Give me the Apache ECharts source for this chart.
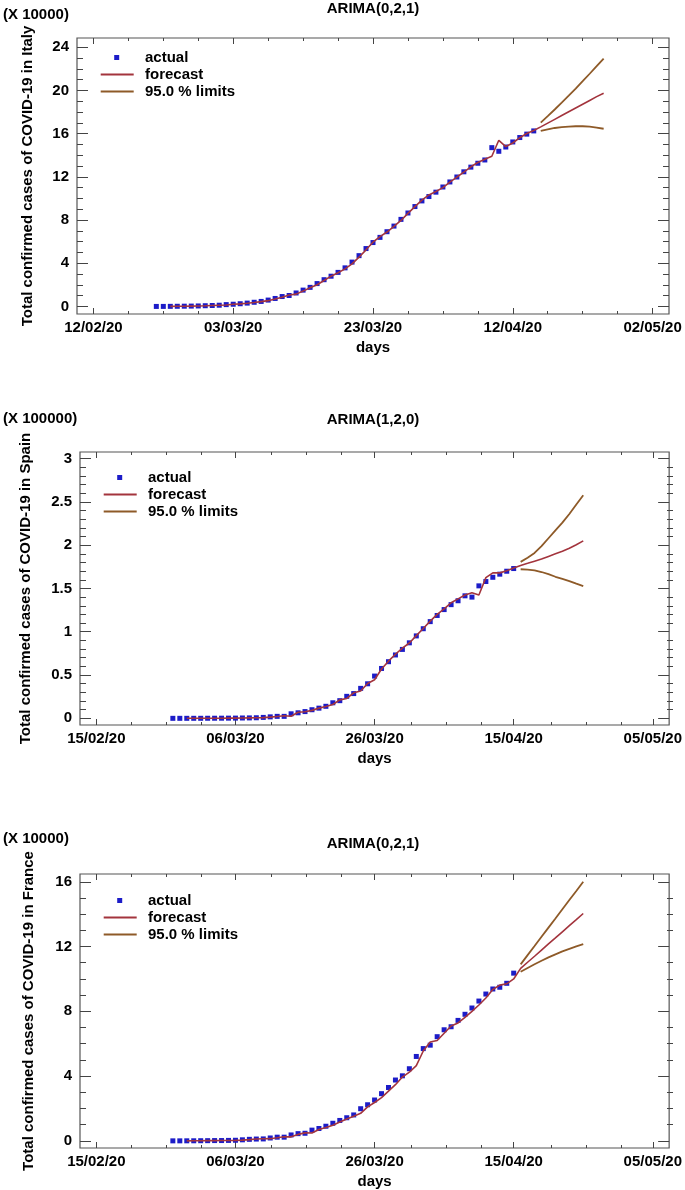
<!DOCTYPE html>
<html>
<head>
<meta charset="utf-8">
<script src="https://cdn.jsdelivr.net/npm/echarts@6/dist/echarts.min.js"></script>
<style>
html,body{margin:0;padding:0;background:#fff;}
#c{width:685px;height:1190px;}
</style>
</head>
<body>
<div id="c"></div>
<script>
// ---------------- DATA ----------------
// Italy (X 10000)
const italyBase = '2020-02-12';
const italyActualStart = '2020-02-21';
const italyActual = [0.0003,0.002,0.008,0.015,0.023,0.032,0.045,0.066,0.089,0.113,
  0.169,0.204,0.250,0.309,0.386,0.464,0.588,0.738,0.917,1.015,
  1.246,1.511,1.766,2.116,2.475,2.798,3.151,3.571,4.104,4.702,
  5.358,5.914,6.393,6.918,7.439,8.059,8.650,9.247,9.769,10.174,
  10.579,11.057,11.524,11.983,12.463,12.895,13.255,13.559,14.70,14.363,
  14.758,15.227,15.636,15.952,16.249];
const italyFittedStart = '2020-02-23';
const italyFitted = [0.004,0.013,0.021,0.030,0.041,0.057,0.083,0.109,0.136,0.200,
  0.240,0.292,0.360,0.448,0.535,0.680,0.860,1.060,1.140,1.420,
  1.730,2.010,2.400,2.800,3.120,3.480,3.940,4.560,5.240,5.950,
  6.460,6.890,7.420,7.960,8.620,9.240,9.840,10.320,10.640,11.000,
  11.500,11.980,12.440,12.930,13.320,13.620,13.900,15.380,14.800,15.130,
  15.620,16.010,16.280];
const italyForecastStart = '2020-04-16';
const italyForecast = [16.62,16.97,17.32,17.67,18.02,18.37,18.72,19.07,19.42,19.74];
const italyUpper = [17.02,17.62,18.23,18.86,19.51,20.17,20.85,21.54,22.24,22.95];
const italyLower = [16.25,16.40,16.52,16.60,16.65,16.68,16.68,16.64,16.56,16.45];
const italyYTicks = [0,4,8,12,16,20,24];
const italyYMinor = [1,2,3,5,6,7,9,10,11,13,14,15,17,18,19,21,22,23];

// Spain (X 100000)
const spainBase = '2020-02-15';
const spainActualStart = '2020-02-26';
const spainActual = [0.00002,0.00013,0.00015,0.00032,0.00045,0.00084,0.0012,0.00165,0.0022,0.0026,
  0.0040,0.0050,0.0067,0.0107,0.0170,0.0228,0.0228,0.0523,0.0639,0.0780,
  0.0994,0.1175,0.1390,0.1796,0.2040,0.2540,0.2860,0.3460,0.3990,0.4880,
  0.5760,0.6540,0.7320,0.7960,0.8720,0.9520,1.0350,1.1170,1.1880,1.2560,
  1.3130,1.3580,1.4150,1.4000,1.5300,1.5800,1.6290,1.6650,1.6990,1.7300];
const spainFittedStart = '2020-02-28';
const spainFitted = [0.0002,0.0002,0.0004,0.0006,0.0011,0.0015,0.0021,0.0028,0.0030,0.0050,
  0.0060,0.0082,0.0135,0.0215,0.0290,0.0240,0.0700,0.0760,0.0920,0.1180,
  0.1360,0.1600,0.2130,0.2300,0.2950,0.3160,0.4030,0.4450,0.5700,0.6600,
  0.7400,0.8100,0.8700,0.9550,1.0380,1.1230,1.2000,1.2650,1.3350,1.3800,
  1.4250,1.4500,1.4250,1.6250,1.6800,1.6800,1.7050,1.7350];
const spainForecastStart = '2020-04-16';
const spainForecast = [1.766,1.790,1.815,1.840,1.870,1.900,1.930,1.965,2.005,2.050];
const spainUpper = [1.807,1.855,1.910,1.990,2.080,2.170,2.260,2.360,2.470,2.577];
const spainLower = [1.722,1.718,1.710,1.690,1.665,1.635,1.610,1.585,1.555,1.527];
const spainYTicks = [0,0.5,1,1.5,2,2.5,3];
const spainYMinor = [0.1,0.2,0.3,0.4,0.6,0.7,0.8,0.9,1.1,1.2,1.3,1.4,1.6,1.7,1.8,1.9,2.1,2.2,2.3,2.4,2.6,2.7,2.8,2.9];

// France (X 10000)
const franceBase = '2020-02-15';
const franceActualStart = '2020-02-26';
const franceActual = [0.0014,0.0018,0.0038,0.0057,0.0100,0.0130,0.0191,0.0204,0.0285,0.0377,
  0.0653,0.0949,0.1126,0.1209,0.1784,0.2281,0.2281,0.3661,0.4469,0.4700,
  0.6633,0.7652,0.9043,1.0871,1.2612,1.4282,1.6018,1.9856,2.2304,2.5233,
  2.9155,3.2964,3.7575,4.0174,4.4550,5.2128,5.6989,5.9105,6.4338,6.8605,
  7.0478,7.4390,7.8167,8.2048,8.6334,9.0676,9.3790,9.4863,9.7301,10.3573];
const franceFittedStart = '2020-02-28';
const franceFitted = [0.0022,0.0050,0.0075,0.0130,0.0165,0.0230,0.0240,0.0330,0.0440,0.0780,
  0.1150,0.1350,0.1360,0.1950,0.2550,0.2500,0.4000,0.4950,0.4900,0.7000,
  0.8200,0.9700,1.1600,1.3500,1.5200,1.7000,2.1000,2.3700,2.6700,3.0700,
  3.4700,3.9400,4.2400,4.6500,5.5500,6.1000,6.2000,6.6500,7.0900,7.2800,
  7.6300,8.0000,8.3900,8.8200,9.3500,9.6200,9.7000,10.0000];
const franceForecastStart = '2020-04-16';
const franceForecast = [10.65,11.03,11.40,11.78,12.16,12.53,12.91,13.29,13.66,14.04];
const franceUpper = [10.90,11.47,12.03,12.60,13.17,13.73,14.30,14.87,15.43,16.00];
const franceLower = [10.44,10.68,10.91,11.12,11.33,11.52,11.70,11.86,12.01,12.15];
const franceYTicks = [0,4,8,12,16];
const franceYMinor = [1,2,3,5,6,7,9,10,11,13,14,15];

// shared x ticks (days after base date)
const xMajorTicks = [0,20,40,60,80];
const xMinorTicks = [5,10,15,25,30,35,45,50,55,65,70,75];

const titles = ['ARIMA(0,2,1)','ARIMA(1,2,0)','ARIMA(0,2,1)'];
const units = ['(X 10000)','(X 100000)','(X 10000)'];
const yNames = ['Total confirmed cases of COVID-19 in Italy',
                'Total confirmed cases of COVID-19 in Spain',
                'Total confirmed cases of COVID-19 in France'];
const legendNames = ['actual','forecast','95.0 % limits'];

// ---------------- BUILD ----------------
const FONT = '"Liberation Sans", Arial, Helvetica, sans-serif';
const DAY = 86400000;
function ms(s){ const p=s.split('-').map(Number); return Date.UTC(p[0],p[1]-1,p[2]); }
function dayIdx(base, s){ return Math.round((ms(s)-ms(base))/DAY); }
function pad(n){ return (n<10?'0':'')+n; }
function fmtDate(base, v){
  const d = new Date(ms(base) + Math.round(v)*DAY);
  return pad(d.getUTCDate())+'/'+pad(d.getUTCMonth()+1)+'/'+String(d.getUTCFullYear()).slice(2);
}
function pts(base, start, arr){
  const s0 = dayIdx(base, start);
  return arr.map((v,i)=>[s0+i, v]);
}

const panels = [
  {base:italyBase, actual:pts(italyBase,italyActualStart,italyActual),
   line:pts(italyBase,italyFittedStart,italyFitted).concat(pts(italyBase,italyForecastStart,italyForecast)),
   upper:pts(italyBase,italyForecastStart,italyUpper), lower:pts(italyBase,italyForecastStart,italyLower),
   yTicks:italyYTicks, yMinor:italyYMinor, ymin:-0.7, ymax:24.85,
   grid:{left:77, top:38, width:592, height:276}, nameGap:42,
   titleTop:1, unitTop:7, legendTop:50},
  {base:spainBase, actual:pts(spainBase,spainActualStart,spainActual),
   line:pts(spainBase,spainFittedStart,spainFitted).concat(pts(spainBase,spainForecastStart,spainForecast)),
   upper:pts(spainBase,spainForecastStart,spainUpper), lower:pts(spainBase,spainForecastStart,spainLower),
   yTicks:spainYTicks, yMinor:spainYMinor, ymin:-0.077, ymax:3.076,
   grid:{left:80, top:452, width:593, height:273}, nameGap:47,
   titleTop:412, unitTop:411, legendTop:470},
  {base:franceBase, actual:pts(franceBase,franceActualStart,franceActual),
   line:pts(franceBase,franceFittedStart,franceFitted).concat(pts(franceBase,franceForecastStart,franceForecast)),
   upper:pts(franceBase,franceForecastStart,franceUpper), lower:pts(franceBase,franceForecastStart,franceLower),
   yTicks:franceYTicks, yMinor:franceYMinor, ymin:-0.44, ymax:16.48,
   grid:{left:80, top:874, width:593, height:274}, nameGap:44,
   titleTop:836, unitTop:831, legendTop:893}
];

const XMIN = -2.35, XMAX = 82.35;
const TICK = '#444';
const COL_ACT = '#1c1cc8', COL_FC = '#a3343d', COL_LIM = '#8e5a28';
const option = {
  animation:false,
  backgroundColor:'#fff',
  textStyle:{fontFamily:FONT},
  title:[], grid:[], xAxis:[], yAxis:[], legend:[], series:[]
};

panels.forEach((p, c)=>{
  const gMain = c*2, gMinor = c*2+1;
  option.grid.push(Object.assign({show:true, borderColor:'#555', borderWidth:1.2, backgroundColor:'transparent'}, p.grid));
  option.grid.push(Object.assign({show:false}, p.grid));
  option.title.push({text:titles[c], left:373, top:p.titleTop, textAlign:'center', padding:0,
    textStyle:{fontSize:15, fontWeight:'bold', color:'#000', fontFamily:FONT}});
  option.title.push({text:units[c], left:3, top:p.unitTop, padding:0,
    textStyle:{fontSize:15, fontWeight:'bold', color:'#000', fontFamily:FONT}});

  const labelStyle = {fontSize:15, fontWeight:'bold', color:'#000', fontFamily:FONT};
  const noLine = {show:false, onZero:false};
  const xBase = {type:'value', min:XMIN, max:XMAX, axisLine:noLine, splitLine:{show:false}};
  const yBase = {type:'value', min:p.ymin, max:p.ymax, axisLine:noLine, splitLine:{show:false}};
  const xi0 = option.xAxis.length, yi0 = option.yAxis.length;
  // main bottom
  option.xAxis.push(Object.assign({}, xBase, {gridIndex:gMain, position:'bottom',
    axisTick:{show:true, inside:true, length:6, customValues:xMajorTicks, lineStyle:{color:TICK}},
    axisLabel:Object.assign({show:true, customValues:xMajorTicks, margin:6,
      formatter:(v)=>fmtDate(p.base, v)}, labelStyle),
    name:'days', nameLocation:'middle', nameGap:26, nameTextStyle:labelStyle}));
  // main top
  option.xAxis.push(Object.assign({}, xBase, {gridIndex:gMain, position:'top',
    axisTick:{show:true, inside:true, length:6, customValues:xMajorTicks, lineStyle:{color:TICK}},
    axisLabel:{show:false}}));
  // minor bottom / top
  option.xAxis.push(Object.assign({}, xBase, {gridIndex:gMinor, position:'bottom',
    axisTick:{show:true, inside:true, length:3, customValues:xMinorTicks, lineStyle:{color:TICK}},
    axisLabel:{show:false}}));
  option.xAxis.push(Object.assign({}, xBase, {gridIndex:gMinor, position:'top',
    axisTick:{show:true, inside:true, length:3, customValues:xMinorTicks, lineStyle:{color:TICK}},
    axisLabel:{show:false}}));
  // y main left
  option.yAxis.push(Object.assign({}, yBase, {gridIndex:gMain, position:'left',
    axisTick:{show:true, inside:true, length:11, customValues:p.yTicks, lineStyle:{color:TICK}},
    axisLabel:Object.assign({show:true, customValues:p.yTicks, margin:8}, labelStyle),
    name:yNames[c], nameLocation:'middle', nameRotate:90, nameGap:p.nameGap, nameTextStyle:labelStyle}));
  option.yAxis.push(Object.assign({}, yBase, {gridIndex:gMain, position:'right',
    axisTick:{show:true, inside:true, length:11, customValues:p.yTicks, lineStyle:{color:TICK}},
    axisLabel:{show:false}}));
  option.yAxis.push(Object.assign({}, yBase, {gridIndex:gMinor, position:'left',
    axisTick:{show:true, inside:true, length:6, customValues:p.yMinor, lineStyle:{color:TICK}},
    axisLabel:{show:false}}));
  option.yAxis.push(Object.assign({}, yBase, {gridIndex:gMinor, position:'right',
    axisTick:{show:true, inside:true, length:6, customValues:p.yMinor, lineStyle:{color:TICK}},
    axisLabel:{show:false}}));

  const legText = (pl)=>({fontSize:15, fontWeight:'bold', color:'#000', fontFamily:FONT, padding:[0,0,0,pl]});
  // legend entry for the points (small square)
  option.legend.push({orient:'vertical', left:p.grid.left+37.2, top:p.legendTop, padding:0,
    itemWidth:5, itemHeight:5, itemGap:2, selectedMode:false,
    textStyle:legText(20.8), data:[{name:legendNames[0], icon:'rect'}]});
  // legend entries for the lines
  option.legend.push({orient:'vertical', left:p.grid.left+23.7, top:p.legendTop+17, padding:0,
    itemWidth:33, itemHeight:2, itemGap:2, selectedMode:false,
    textStyle:legText(6.3),
    data:[{name:legendNames[1], icon:'rect'},{name:legendNames[2], icon:'rect'}]});

  option.series.push({name:legendNames[0], type:'scatter', xAxisIndex:xi0, yAxisIndex:yi0,
    symbol:'rect', symbolSize:5, itemStyle:{color:COL_ACT, opacity:1}, z:2, data:p.actual});
  option.series.push({name:legendNames[1], type:'line', xAxisIndex:xi0, yAxisIndex:yi0,
    symbol:'none', showSymbol:false, lineStyle:{color:COL_FC, width:1.6}, itemStyle:{color:COL_FC},
    z:3, data:p.line});
  option.series.push({name:legendNames[2], type:'line', xAxisIndex:xi0, yAxisIndex:yi0,
    symbol:'none', showSymbol:false, lineStyle:{color:COL_LIM, width:1.8}, itemStyle:{color:COL_LIM},
    z:3, data:p.upper});
  option.series.push({name:legendNames[2], type:'line', xAxisIndex:xi0, yAxisIndex:yi0,
    symbol:'none', showSymbol:false, lineStyle:{color:COL_LIM, width:1.8}, itemStyle:{color:COL_LIM},
    z:3, data:p.lower});
});

const chart = echarts.init(document.getElementById('c'), null, {renderer:'canvas'});
chart.setOption(option);
</script>
</body>
</html>
